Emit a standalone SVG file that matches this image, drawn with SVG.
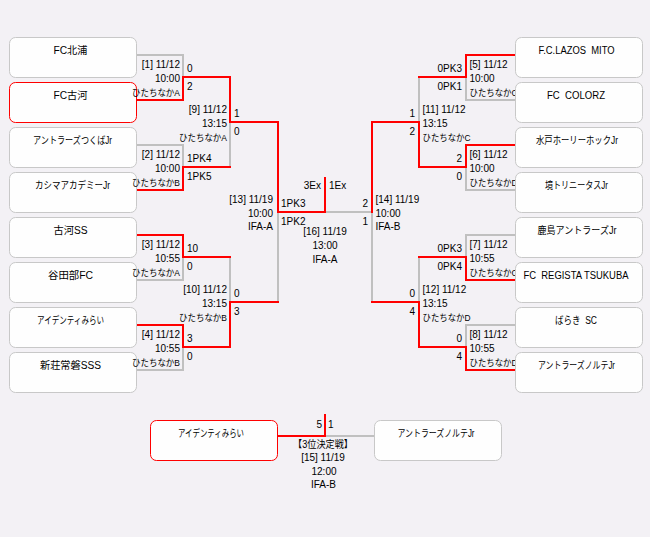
<svg xmlns="http://www.w3.org/2000/svg" width="650" height="537" viewBox="0 0 650 537">
<style>
text{font-family:"Liberation Sans","Noto Sans CJK JP",sans-serif;font-size:10px;fill:#000}
text.k{font-size:9px}
.box{fill:#fefefe;stroke:#c8c8c8;stroke-width:1}
.win{stroke:#ff0000}
.g{fill:none;stroke:#c0c0c0;stroke-width:2;stroke-linecap:square}
.r{fill:none;stroke:#ff0000;stroke-width:2;stroke-linecap:square}
.e{text-anchor:end}
.m{text-anchor:middle}
</style>
<rect x="0" y="0" width="650" height="537" fill="#f3f1f5"/>
<g id="connectors">
<path class="g" d="M137,55H183V77M137,145H183V167M137,280H183V257M137,370H183V347M230,167V122M230,257V302M278,302V212"/>
<path class="g" d="M515,100H466V77M515,190H466V167M515,235H466V257M515,325H466V347M419,77V122M419,257V302M372,302V212H325"/>
<path class="g" d="M374,436H325"/>
<path class="r" d="M137,100H183V77H230M137,190H183V167H230M137,235H183V257H230M137,325H183V347H230M230,77V122H278M230,347V302H278M278,122V212H325V178"/>
<path class="r" d="M515,55H466V77H419M515,145H466V167H419M515,280H466V257H419M515,370H466V347H419M419,167V122H372M419,347V302H372M372,122V212"/>
<path class="r" d="M278,436H325V415"/>
</g>
<g id="labels-right">
<text x="469.5" y="68">[5] 11/12</text><text x="469.5" y="81.5">10:00</text><text class="k" x="469.5" y="95.5" textLength="48" lengthAdjust="spacingAndGlyphs">ひたちなかC</text>
<text class="e" x="462" y="71.5">0PK3</text><text class="e" x="462" y="89.8">0PK1</text>
<text x="469.5" y="158">[6] 11/12</text><text x="469.5" y="171.5">10:00</text><text class="k" x="469.5" y="185.5" textLength="48" lengthAdjust="spacingAndGlyphs">ひたちなかD</text>
<text class="e" x="462" y="161.5">2</text><text class="e" x="462" y="179.8">0</text>
<text x="469.5" y="248">[7] 11/12</text><text x="469.5" y="261.5">10:55</text><text class="k" x="469.5" y="275.5" textLength="48" lengthAdjust="spacingAndGlyphs">ひたちなかC</text>
<text class="e" x="462" y="251.5">0PK3</text><text class="e" x="462" y="269.8">0PK4</text>
<text x="469.5" y="338">[8] 11/12</text><text x="469.5" y="351.5">10:55</text><text class="k" x="469.5" y="365.5" textLength="48" lengthAdjust="spacingAndGlyphs">ひたちなかD</text>
<text class="e" x="462" y="341.5">0</text><text class="e" x="462" y="359.8">4</text>
<text x="422.5" y="113">[11] 11/12</text><text x="422.5" y="126.5">13:15</text><text class="k" x="422.5" y="140.5" textLength="48" lengthAdjust="spacingAndGlyphs">ひたちなかC</text>
<text class="e" x="415" y="116.5">1</text><text class="e" x="415" y="134.8">2</text>
<text x="422.5" y="293">[12] 11/12</text><text x="422.5" y="306.5">13:15</text><text class="k" x="422.5" y="320.5" textLength="48" lengthAdjust="spacingAndGlyphs">ひたちなかD</text>
<text class="e" x="415" y="296.5">0</text><text class="e" x="415" y="314.8">4</text>
<text x="375.5" y="203">[14] 11/19</text><text x="375.5" y="216.5">10:00</text><text x="375.5" y="229.8">IFA-B</text>
<text class="e" x="368" y="206.5">2</text><text class="e" x="368" y="224.8">1</text>
</g>
<g id="n1"><rect class="box" x="9.5" y="37.5" width="127" height="40" rx="6"/><text x="53.5" y="53.5" textLength="34" lengthAdjust="spacingAndGlyphs">FC北浦</text></g>
<g id="n2"><rect class="box win" x="9.5" y="82.5" width="127" height="40" rx="6"/><text x="53.5" y="98.5" textLength="34" lengthAdjust="spacingAndGlyphs">FC古河</text></g>
<g id="n3"><rect class="box" x="9.5" y="127.5" width="127" height="40" rx="6"/><text x="33" y="143.5" textLength="79" lengthAdjust="spacingAndGlyphs">アントラーズつくばJr</text></g>
<g id="n4"><rect class="box" x="9.5" y="172.5" width="127" height="40" rx="6"/><text x="35" y="188.5" textLength="75" lengthAdjust="spacingAndGlyphs">カシマアカデミーJr</text></g>
<g id="n5"><rect class="box" x="9.5" y="217.5" width="127" height="40" rx="6"/><text x="53.5" y="233.5" textLength="34" lengthAdjust="spacingAndGlyphs">古河SS</text></g>
<g id="n6"><rect class="box" x="9.5" y="262.5" width="127" height="40" rx="6"/><text x="48" y="278.5" textLength="45" lengthAdjust="spacingAndGlyphs">谷田部FC</text></g>
<g id="n7"><rect class="box" x="9.5" y="307.5" width="127" height="40" rx="6"/><text x="37" y="323.5" textLength="67" lengthAdjust="spacingAndGlyphs">アイデンティみらい</text></g>
<g id="n8"><rect class="box" x="9.5" y="352.5" width="127" height="40" rx="6"/><text x="40" y="368.5" textLength="61" lengthAdjust="spacingAndGlyphs">新荘常磐SSS</text></g>
<g id="n9"><rect class="box" x="515.5" y="37.5" width="127" height="40" rx="6"/><text x="538.5" y="53.5" textLength="76" lengthAdjust="spacingAndGlyphs" xml:space="preserve">F.C.LAZOS  MITO</text></g>
<g id="n10"><rect class="box" x="515.5" y="82.5" width="127" height="40" rx="6"/><text x="547" y="98.5" textLength="58" lengthAdjust="spacingAndGlyphs" xml:space="preserve">FC  COLORZ</text></g>
<g id="n11"><rect class="box" x="515.5" y="127.5" width="127" height="40" rx="6"/><text x="536" y="143.5" textLength="82" lengthAdjust="spacingAndGlyphs">水戸ホーリーホックJr</text></g>
<g id="n12"><rect class="box" x="515.5" y="172.5" width="127" height="40" rx="6"/><text x="545" y="188.5" textLength="63" lengthAdjust="spacingAndGlyphs">境トリニータスJr</text></g>
<g id="n13"><rect class="box" x="515.5" y="217.5" width="127" height="40" rx="6"/><text x="537.5" y="233.5" textLength="79" lengthAdjust="spacingAndGlyphs">鹿島アントラーズJr</text></g>
<g id="n14"><rect class="box" x="515.5" y="262.5" width="127" height="40" rx="6"/><text x="523.5" y="278.5" textLength="105" lengthAdjust="spacingAndGlyphs" xml:space="preserve">FC  REGISTA TSUKUBA</text></g>
<g id="n15"><rect class="box" x="515.5" y="307.5" width="127" height="40" rx="6"/><text x="555" y="323.5" textLength="42" lengthAdjust="spacingAndGlyphs" xml:space="preserve">ばらき  SC</text></g>
<g id="n16"><rect class="box" x="515.5" y="352.5" width="127" height="40" rx="6"/><text x="538" y="368.5" textLength="77" lengthAdjust="spacingAndGlyphs">アントラーズノルテJr</text></g>
<g id="n17"><rect class="box win" x="150.5" y="420.5" width="127" height="40" rx="6"/><text x="178" y="436.5" textLength="66" lengthAdjust="spacingAndGlyphs">アイデンティみらい</text></g>
<g id="n18"><rect class="box" x="374.5" y="420.5" width="127" height="40" rx="6"/><text x="397.5" y="436.5" textLength="77" lengthAdjust="spacingAndGlyphs">アントラーズノルテJr</text></g>
<g id="labels-left">
<text class="e" x="180" y="68">[1] 11/12</text><text class="e" x="180" y="81.5">10:00</text><text class="k" x="132" y="95.5" textLength="48" lengthAdjust="spacingAndGlyphs">ひたちなかA</text>
<text x="187" y="71.5">0</text><text x="187" y="89.8">2</text>
<text class="e" x="180" y="158">[2] 11/12</text><text class="e" x="180" y="171.5">10:00</text><text class="k" x="132" y="185.5" textLength="48" lengthAdjust="spacingAndGlyphs">ひたちなかB</text>
<text x="187" y="161.5">1PK4</text><text x="187" y="179.8">1PK5</text>
<text class="e" x="180" y="248">[3] 11/12</text><text class="e" x="180" y="261.5">10:55</text><text class="k" x="132" y="275.5" textLength="48" lengthAdjust="spacingAndGlyphs">ひたちなかA</text>
<text x="187" y="251.5">10</text><text x="187" y="269.8">0</text>
<text class="e" x="180" y="338">[4] 11/12</text><text class="e" x="180" y="351.5">10:55</text><text class="k" x="132" y="365.5" textLength="48" lengthAdjust="spacingAndGlyphs">ひたちなかB</text>
<text x="187" y="341.5">3</text><text x="187" y="359.8">0</text>
<text class="e" x="227" y="113">[9] 11/12</text><text class="e" x="227" y="126.5">13:15</text><text class="k" x="179" y="140.5" textLength="48" lengthAdjust="spacingAndGlyphs">ひたちなかA</text>
<text x="234" y="116.5">1</text><text x="234" y="134.8">0</text>
<text class="e" x="227" y="293">[10] 11/12</text><text class="e" x="227" y="306.5">13:15</text><text class="k" x="179" y="320.5" textLength="48" lengthAdjust="spacingAndGlyphs">ひたちなかB</text>
<text x="234" y="296.5">0</text><text x="234" y="314.8">3</text>
<text class="e" x="273" y="203">[13] 11/19</text><text class="e" x="273" y="216.5">10:00</text><text class="e" x="273" y="229.8">IFA-A</text>
<text x="281" y="206.5">1PK3</text><text x="281" y="224.8">1PK2</text>
</g>
<g id="labels-center">
<text class="e" x="321" y="189.3">3Ex</text><text x="329" y="189.3">1Ex</text>
<text class="m" x="325" y="235.3">[16] 11/19</text><text class="m" x="325" y="249.3">13:00</text><text class="m" x="325" y="262.6">IFA-A</text>
<text class="e" x="322" y="427.6">5</text><text x="328" y="427.6">1</text>
<text x="293" y="448" textLength="60" lengthAdjust="spacingAndGlyphs">【3位決定戦】</text>
<text class="m" x="323" y="461.3">[15] 11/19</text><text class="m" x="324" y="474.6">12:00</text><text class="m" x="323.5" y="488">IFA-B</text>
</g>
</svg>
